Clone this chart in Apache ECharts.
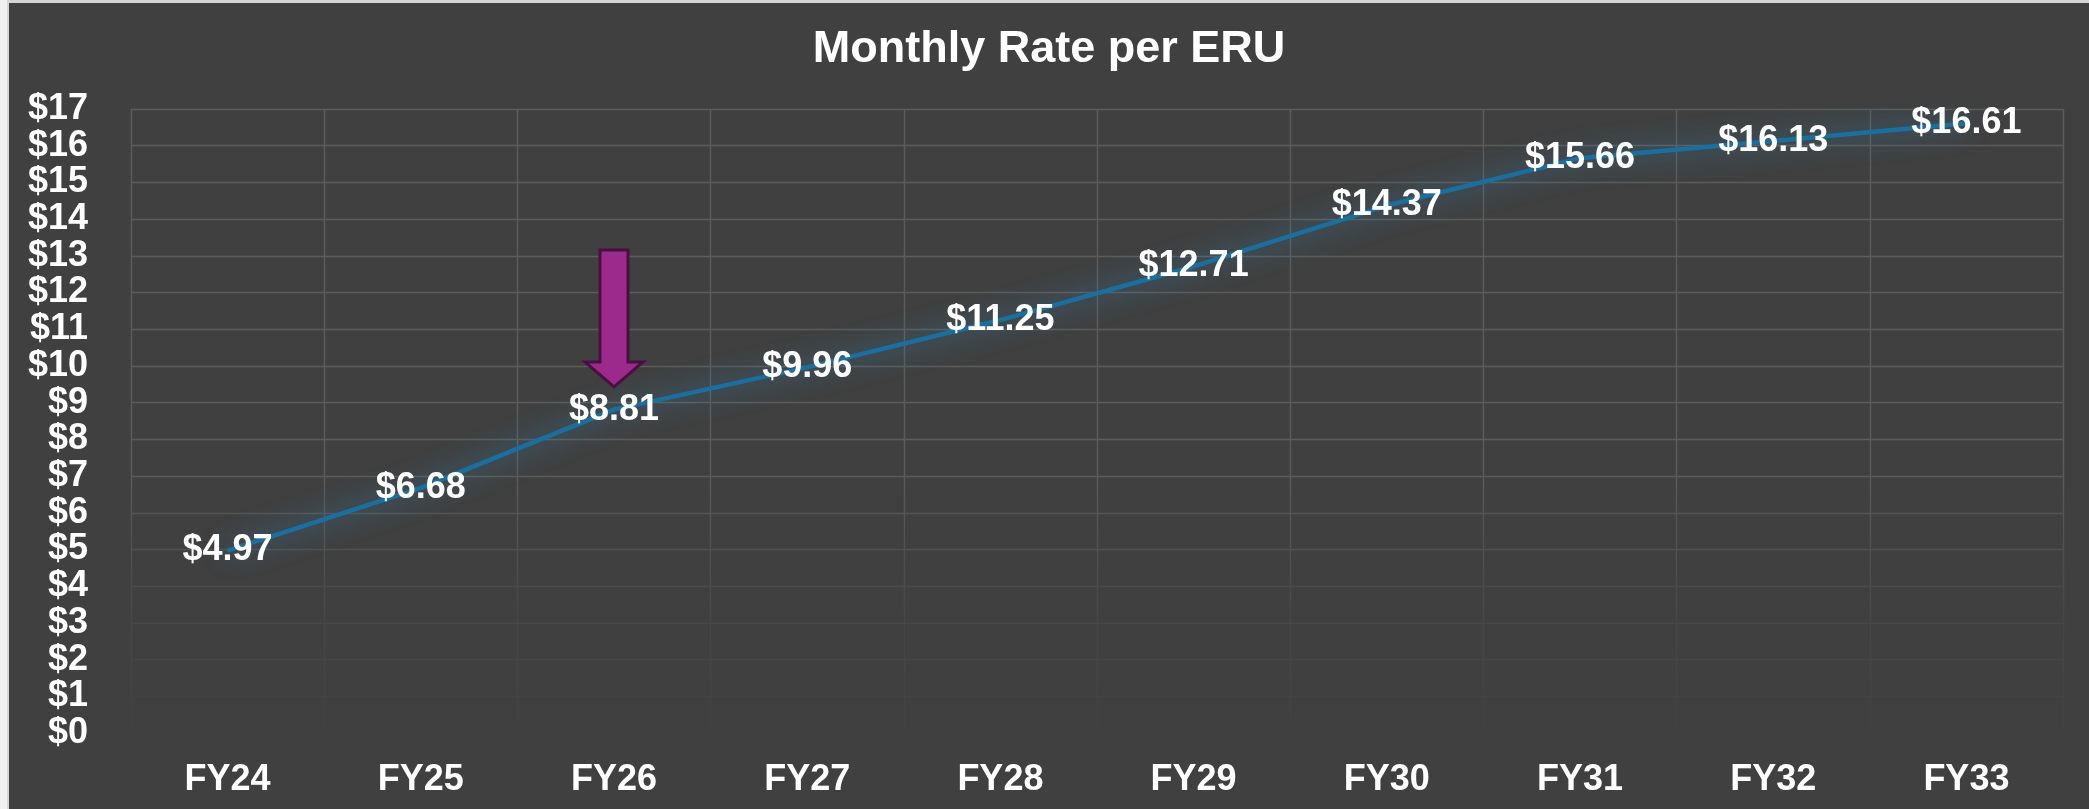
<!DOCTYPE html>
<html>
<head>
<meta charset="utf-8">
<script src="https://cdn.jsdelivr.net/npm/echarts@6/dist/echarts.min.js"></script>
<style>
html,body{margin:0;padding:0;width:2089px;height:809px;overflow:hidden;background:#f0f0f0;}
#edge{position:absolute;left:7px;top:0;width:2082px;height:809px;background:#d6d6d6;}
#c{position:absolute;left:9px;top:3px;width:2080px;height:806px;background:#404040;}
</style>
</head>
<body>
<div id="edge"></div>
<div id="c"></div>
<script>
// ---- data ----
const categories = ['FY24','FY25','FY26','FY27','FY28','FY29','FY30','FY31','FY32','FY33'];
const rates = [4.97, 6.68, 8.81, 9.96, 11.25, 12.71, 14.37, 15.66, 16.13, 16.61];
const yTicks = {min: 0, max: 17, interval: 1};
const titleText = 'Monthly Rate per ERU';
// callout arrow (category, top value, head-base value, tip value)
const arrowCategory = 'FY26';
const arrowValues = {top: 13.16, headBase: 10.11, tip: 9.43};

const FONT = 'Arial, "Liberation Sans", sans-serif';
const BG = '#404040';
const GRID = '#5c5c5c';

const chart = echarts.init(document.getElementById('c'), null, {renderer: 'canvas'});

const option = {
  backgroundColor: BG,
  animation: false,
  title: {
    text: titleText,
    left: 'center',
    top: 19,
    textStyle: {color: '#ffffff', fontFamily: FONT, fontWeight: 'bold', fontSize: 45}
  },
  grid: {left: 122, right: 26, top: 106, bottom: 76, containLabel: false},
  xAxis: {
    type: 'category',
    data: categories,
    boundaryGap: true,
    axisLine: {show: false},
    axisTick: {show: false},
    splitLine: {show: true, lineStyle: {color: GRID, width: 1.4}},
    axisLabel: {color: '#ffffff', fontFamily: FONT, fontWeight: 'bold', fontSize: 36, margin: 29}
  },
  yAxis: {
    type: 'value',
    min: yTicks.min, max: yTicks.max, interval: yTicks.interval,
    axisLine: {show: false},
    axisTick: {show: false},
    splitLine: {show: true, lineStyle: {color: GRID, width: 1.4}},
    axisLabel: {color: '#ffffff', fontFamily: FONT, fontWeight: 'bold', fontSize: 36, margin: 43,
      showMinLabel: true, showMaxLabel: true, hideOverlap: false,
      formatter: v => '$' + v}
  },
  series: [{
    type: 'line',
    data: rates,
    z: 5,
    symbol: 'circle',
    symbolSize: 2,
    itemStyle: {color: '#1a6f9e'},
    lineStyle: {color: '#1a6f9e', width: 4.5, shadowBlur: 26, shadowColor: 'rgba(45,160,225,0.75)'},
    label: {
      show: true,
      position: 'inside',
      color: '#ffffff',
      fontFamily: FONT,
      fontWeight: 'bold',
      fontSize: 36,
      formatter: p => '$' + p.value.toFixed(2)
    }
  }]
};
chart.setOption(option);

function drawOverlays() {
  const px = (c, v) => chart.convertToPixel({xAxisIndex: 0, yAxisIndex: 0}, [c, v]);
  const top = px(arrowCategory, arrowValues.top);
  const base = px(arrowCategory, arrowValues.headBase);
  const tip = px(arrowCategory, arrowValues.tip);
  const cx = top[0];
  const sw = 14, hw = 29;
  const fadeTop = px(categories[0], 7.2)[1];
  const fadeBot = px(categories[0], 0)[1] + 4;
  const leftX = px(categories[0], 0)[0];
  const rightX = px(categories[categories.length - 1], 0)[0];
  const catW = (rightX - leftX) / (categories.length - 1);
  chart.setOption({
    graphic: [
      {
        type: 'rect', z: 1, silent: true,
        shape: {x: leftX - catW / 2 - 3, y: fadeTop, width: rightX - leftX + catW + 6, height: fadeBot - fadeTop},
        style: {
          fill: new echarts.graphic.LinearGradient(0, 0, 0, 1, [
            {offset: 0, color: 'rgba(64,64,64,0)'},
            {offset: 0.55, color: 'rgba(64,64,64,0.75)'},
            {offset: 1, color: 'rgba(64,64,64,0.97)'}
          ])
        }
      },
      {
        type: 'polygon', z: 10, silent: true,
        shape: {points: [
          [cx - sw, top[1]], [cx + sw, top[1]], [cx + sw, base[1]], [cx + hw, base[1]],
          [cx, tip[1]], [cx - hw, base[1]], [cx - sw, base[1]]
        ]},
        style: {fill: '#9c2a8d', stroke: '#4a0f42', lineWidth: 3, lineJoin: 'miter'}
      }
    ]
  });
}
drawOverlays();
</script>
</body>
</html>
